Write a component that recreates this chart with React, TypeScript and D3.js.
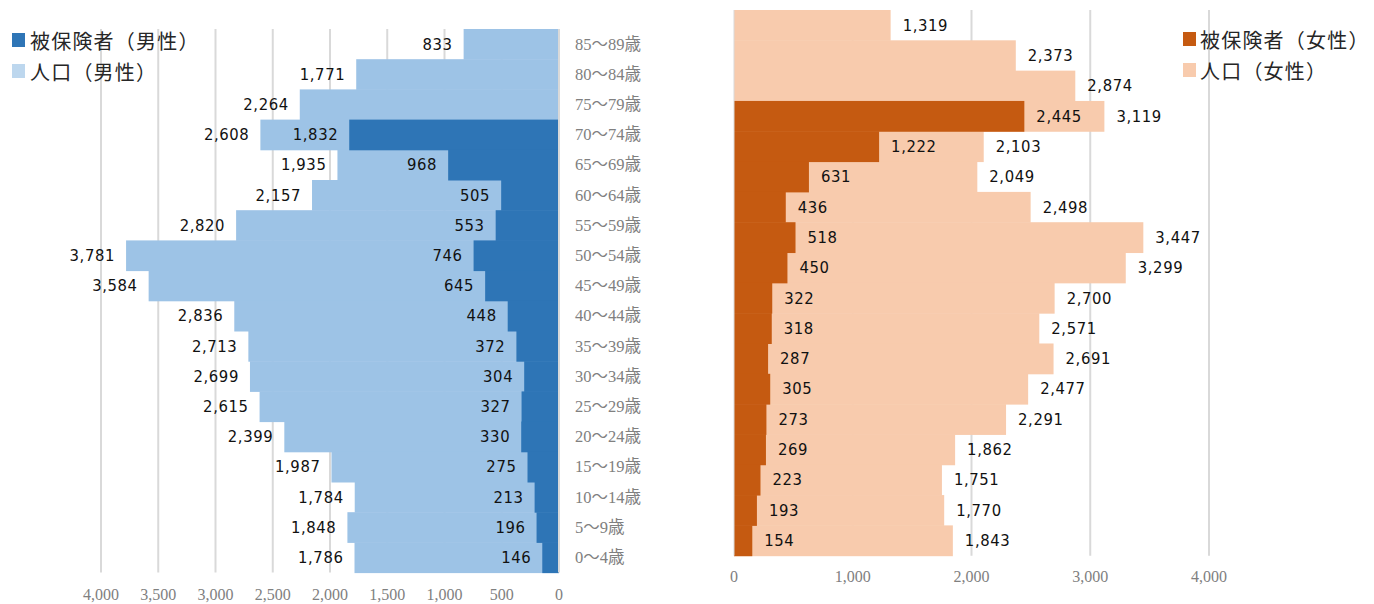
import * as d3 from "d3";

const ages = [
  "85～89歳", "80～84歳", "75～79歳", "70～74歳", "65～69歳", "60～64歳",
  "55～59歳", "50～54歳", "45～49歳", "40～44歳", "35～39歳", "30～34歳",
  "25～29歳", "20～24歳", "15～19歳", "10～14歳", "5～9歳", "0～4歳",
];
const malePop = [833, 1771, 2264, 2608, 1935, 2157, 2820, 3781, 3584, 2836, 2713, 2699, 2615, 2399, 1987, 1784, 1848, 1786];
const maleIns: (number | null)[] = [null, null, null, 1832, 968, 505, 553, 746, 645, 448, 372, 304, 327, 330, 275, 213, 196, 146];
const femalePop = [1319, 2373, 2874, 3119, 2103, 2049, 2498, 3447, 3299, 2700, 2571, 2691, 2477, 2291, 1862, 1751, 1770, 1843];
const femaleIns: (number | null)[] = [null, null, null, 2445, 1222, 631, 436, 518, 450, 322, 318, 287, 305, 273, 269, 223, 193, 154];
const maleTicks = [4000, 3500, 3000, 2500, 2000, 1500, 1000, 500, 0];
const femaleTicks = [0, 1000, 2000, 3000, 4000];

const W = 1374;
const H = 604;
const fmt = d3.format(",");
const labelFont = "'DejaVu Sans Condensed', 'DejaVu Sans', sans-serif";
const serifFont = "'Liberation Serif', 'Noto Sans CJK JP', serif";
const cjkFont = "'Noto Sans CJK JP', sans-serif";
const grid = "#d9d9d9";

const App = () => {
  // male side (mirrored, grows to the left)
  const xm = d3.scaleLinear().domain([0, 4000]).range([559, 101]);
  const ym = d3.scaleBand<string>().domain(ages).range([29, 572.6]).padding(0);
  // female side
  const xf = d3.scaleLinear().domain([0, 4000]).range([734, 1209]);
  const yf = d3.scaleBand<string>().domain(ages).range([10, 555.7]).padding(0);

  const lblStyle = { fontFamily: labelFont, fontStretch: "condensed", fontSize: 16.5, letterSpacing: 0.6, fill: "#111" };
  const legStyle = { fontFamily: cjkFont, fontSize: 20, letterSpacing: 1.2, fill: "#262626" };

  return (
    <svg width={W} height={H} style={{ position: "absolute", left: 0, top: 0, background: "#fff" }}>
      {/* male gridlines */}
      {maleTicks.filter(t => t > 0).map(t => (
        <line key={"mg" + t} x1={xm(t)} x2={xm(t)} y1={ym.range()[0]} y2={ym.range()[1]} stroke={grid} strokeWidth={2} />
      ))}
      {/* male population */}
      {ages.map((a, i) => (
        <rect key={"mp" + a} x={xm(malePop[i])} y={ym(a)!} width={xm(0) - xm(malePop[i])} height={ym.bandwidth() + 0.5}
          fill="#9dc3e6" />
      ))}
      {/* male insured */}
      {ages.map((a, i) => maleIns[i] == null ? null : (
        <rect key={"mi" + a} x={xm(maleIns[i]!)} y={ym(a)!} width={xm(0) - xm(maleIns[i]!)} height={ym.bandwidth() + 0.5}
          fill="#2e75b6" />
      ))}
      <line x1={xm(0)} x2={xm(0)} y1={ym.range()[0]} y2={ym.range()[1]} stroke={grid} strokeWidth={2} />
      {ages.map((a, i) => (
        <text key={"mpl" + a} x={xm(malePop[i]) - 11} y={ym(a)! + ym.bandwidth() / 2} textAnchor="end"
          dominantBaseline="central" style={lblStyle}>{fmt(malePop[i])}</text>
      ))}
      {ages.map((a, i) => maleIns[i] == null ? null : (
        <text key={"mil" + a} x={xm(maleIns[i]!) - 11} y={ym(a)! + ym.bandwidth() / 2} textAnchor="end"
          dominantBaseline="central" style={lblStyle}>{fmt(maleIns[i]!)}</text>
      ))}
      {/* age labels */}
      {ages.map(a => (
        <text key={"age" + a} x={575} y={ym(a)! + ym.bandwidth() / 2} dominantBaseline="central"
          style={{ fontFamily: serifFont, fontSize: 16.5, fill: "#808080" }}>{a}</text>
      ))}
      {maleTicks.map(t => (
        <text key={"mt" + t} x={xm(t)} y={600} textAnchor="middle"
          style={{ fontFamily: serifFont, fontSize: 16, fill: "#808080" }}>{fmt(t)}</text>
      ))}
      {/* male legend */}
      <rect x={12} y={33} width={13} height={14} fill="#2e75b6" />
      <text x={30} y={40} dominantBaseline="central" style={legStyle}>被保険者（男性）</text>
      <rect x={12} y={64} width={13} height={14} fill="#bdd7ee" />
      <text x={30} y={71} dominantBaseline="central" style={legStyle}>人口（男性）</text>

      {/* female gridlines */}
      {femaleTicks.filter(t => t > 0).map(t => (
        <line key={"fg" + t} x1={xf(t)} x2={xf(t)} y1={yf.range()[0]} y2={yf.range()[1]} stroke={grid} strokeWidth={2} />
      ))}
      {ages.map((a, i) => (
        <rect key={"fp" + a} x={xf(0)} y={yf(a)!} width={xf(femalePop[i]) - xf(0)} height={yf.bandwidth() + 0.5}
          fill="#f8cbad" />
      ))}
      {ages.map((a, i) => femaleIns[i] == null ? null : (
        <rect key={"fi" + a} x={xf(0)} y={yf(a)!} width={xf(femaleIns[i]!) - xf(0)} height={yf.bandwidth() + 0.5}
          fill="#c55a11" />
      ))}
      <line x1={xf(0)} x2={xf(0)} y1={yf.range()[0]} y2={yf.range()[1]} stroke={grid} strokeWidth={1} />
      {ages.map((a, i) => (
        <text key={"fpl" + a} x={xf(femalePop[i]) + 12} y={yf(a)! + yf.bandwidth() / 2}
          dominantBaseline="central" style={lblStyle}>{fmt(femalePop[i])}</text>
      ))}
      {ages.map((a, i) => femaleIns[i] == null ? null : (
        <text key={"fil" + a} x={xf(femaleIns[i]!) + 12} y={yf(a)! + yf.bandwidth() / 2}
          dominantBaseline="central" style={lblStyle}>{fmt(femaleIns[i]!)}</text>
      ))}
      {femaleTicks.map(t => (
        <text key={"ft" + t} x={xf(t)} y={582} textAnchor="middle"
          style={{ fontFamily: serifFont, fontSize: 16, fill: "#808080" }}>{fmt(t)}</text>
      ))}
      {/* female legend */}
      <rect x={1183} y={32} width={13} height={14} fill="#c55a11" />
      <text x={1200} y={39} dominantBaseline="central" style={legStyle}>被保険者（女性）</text>
      <rect x={1183} y={63} width={13} height={14} fill="#f8cbad" />
      <text x={1200} y={70} dominantBaseline="central" style={legStyle}>人口（女性）</text>
    </svg>
  );
};

export default App;
